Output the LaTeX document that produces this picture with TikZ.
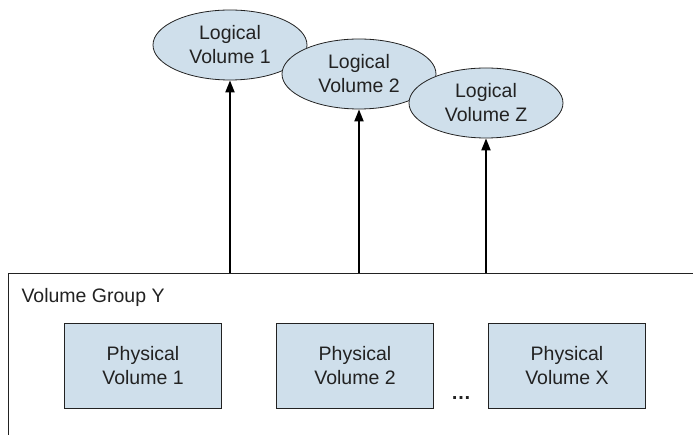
\documentclass[tikz,border=0pt]{standalone}
\usepackage{fontspec}
\setmainfont{Liberation Sans}
\usetikzlibrary{arrows.meta,shapes.geometric}
\definecolor{volblue}{HTML}{CFDFEB}
\definecolor{ink}{HTML}{222222}

\begin{document}
\begin{tikzpicture}[
  x=1pt, y=-1pt,
  lbl/.style={font=\fontsize{19.5}{24}\selectfont, text=ink},
  lvol/.style={lbl, ellipse, draw=ink, line width=0.8pt, fill=volblue, minimum width=154pt, minimum height=70pt, inner sep=0pt, align=center},
  pvol/.style={lbl, rectangle, draw=ink, line width=0.8pt, fill=volblue, minimum width=157pt, minimum height=85pt, inner sep=0pt, align=center},
  grp/.style={rectangle, draw=ink, line width=1pt, anchor=north west, minimum width=720pt, minimum height=200pt},
  arr/.style={-{Triangle[length=12pt,width=9pt]}, line width=2pt, draw=black}
]
\useasboundingbox (0,0) rectangle (693,435);
\clip (0,0) rectangle (693,435);

% the group runs out past the page edge
\node[grp] (vg) at (8,273) {};
\node[lbl, anchor=west] (vglabel) at (18,297) {Volume Group Y};

\foreach \i/\x/\y/\t in {1/230/45/1, 2/359/74/2, 3/486/103/Z}
  \node[lvol] (lv\i) at (\x,\y) {Logical\\Volume \t};

\foreach \i/\x/\t in {1/143/1, 2/355/2, 3/567/X}
  \node[pvol] (pv\i) at (\x,366) {Physical\\Volume \t};

\node[lbl, font=\fontsize{20}{24}\selectfont\bfseries] (dots) at (461,398) {\ldots};

\foreach \i in {1,2,3}
  \draw[arr] (vg.north -| lv\i.south) -- (lv\i.south);
\end{tikzpicture}
\end{document}
